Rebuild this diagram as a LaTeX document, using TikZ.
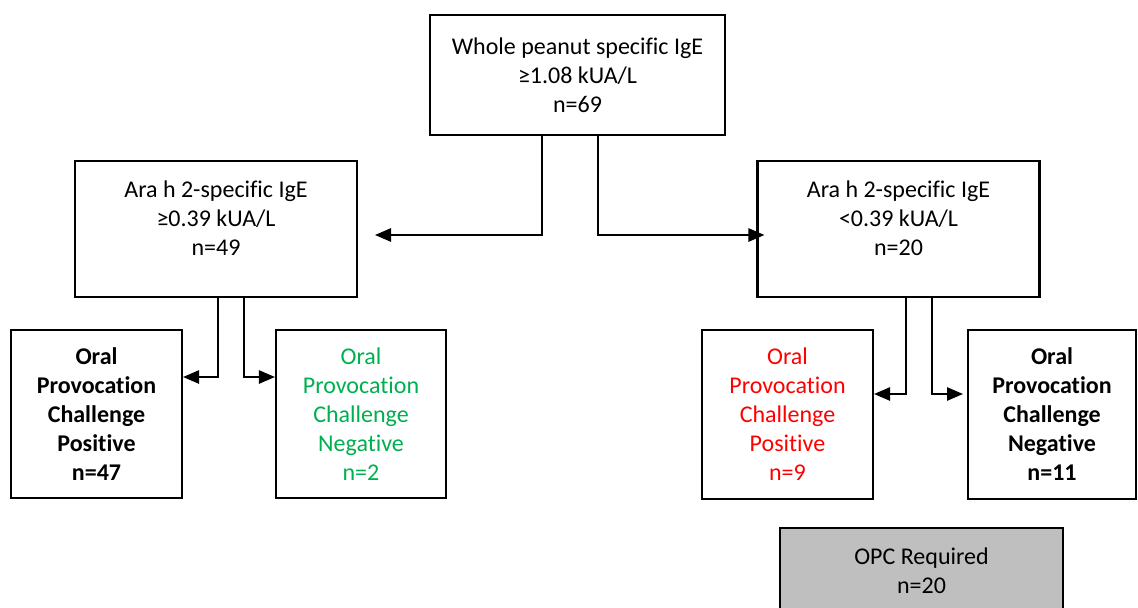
\documentclass[tikz,border=0pt]{standalone}
\usepackage{fontspec}
\setmainfont{Carlito}[Ligatures=NoCommon]
\usetikzlibrary{arrows.meta}
\definecolor{okgreen}{HTML}{00B050}
\definecolor{okred}{HTML}{FF0000}
\definecolor{opcgray}{HTML}{BFBFBF}
\begin{document}
\begin{tikzpicture}[x=0.75pt,y=-0.75pt,
  txt/.style={font=\fontsize{18}{21.75}\selectfont, align=center, inner sep=0pt},
  box/.style={draw=black, line width=1.6pt, fill=white, inner sep=0pt, txt},
  conn/.style={draw=black, line width=1.2pt, -{Triangle[length=12pt,width=10pt]}}]
\useasboundingbox (0,0) rectangle (1138,607);

% boxes
\node[box, minimum width=221.25pt, minimum height=90pt] (top) at (577.5,75)
  {Whole peanut specific IgE\\ ≥1.08 kUA/L\\ n=69};
\node[box, minimum width=211.5pt, minimum height=102pt] (lmid) at (216,229) {};
\node[txt] (ltxt) at (216,218) {Ara h 2-specific IgE\\ ≥0.39 kUA/L\\ n=49};
\node[box, minimum width=211.5pt, minimum height=102pt] (rmid) at (898.5,229) {};
\node[txt] (rtxt) at (898.5,218) {Ara h 2-specific IgE\\ <0.39 kUA/L\\ n=20};

\node[box, font=\fontsize{18}{21.75}\selectfont\bfseries, minimum width=128.25pt, minimum height=126pt] (b1) at (96.5,414)
  {Oral\\ Provocation\\ Challenge\\ Positive\\ n=47};
\node[box, text=okgreen, minimum width=127.5pt, minimum height=126pt] (b2) at (361,414)
  {Oral\\ Provocation\\ Challenge\\ Negative\\ n=2};
\node[box, text=okred, minimum width=128.25pt, minimum height=126.75pt] (b3) at (787.5,414.5)
  {Oral\\ Provocation\\ Challenge\\ Positive\\ n=9};
\node[box, font=\fontsize{18}{21.75}\selectfont\bfseries, minimum width=126pt, minimum height=126.75pt] (b4) at (1052,414.5)
  {Oral\\ Provocation\\ Challenge\\ Negative\\ n=11};

\node[box, fill=opcgray, minimum width=212.25pt, minimum height=64.5pt] (opc) at (921.5,571)
  {OPC Required\\ n=20};

% connector coordinates
\coordinate (a1) at (542,235);
\coordinate (a2) at (598,235);
\coordinate (lend) at (375,235);
\coordinate (c1) at (218,377);
\coordinate (c2) at (244,377);
\coordinate (d1) at (906,394);
\coordinate (d2) at (932,394);
\coordinate (b4tip) at (963,394);

% connectors
\draw[conn] (a1 |- top.south) -- (a1) -- (lend);
\draw[conn, shorten >=-6pt] (a2 |- top.south) -- (a2) -- (a2 -| rmid.west);

\draw[conn] (c1 |- lmid.south) -- (c1) -- (c1 -| b1.east);
\draw[conn] (c2 |- lmid.south) -- (c2) -- (c2 -| b2.west);

\draw[conn] (d1 |- rmid.south) -- (d1) -- (d1 -| b3.east);
\draw[conn] (d2 |- rmid.south) -- (d2) -- (b4tip);
\end{tikzpicture}
\end{document}
